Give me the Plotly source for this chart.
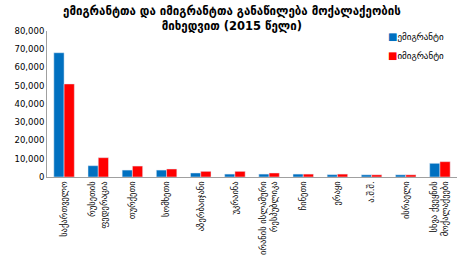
import plotly.graph_objects as go

categories = [
    "საქართველო",
    "რუსეთის<br>ფედერაცია",
    "თურქეთი",
    "სომხეთი",
    "აზერბაიჯანი",
    "უკრაინა",
    "ირანის ისლამური<br>რესპუბლიკა",
    "ჩინეთი",
    "ერაყი",
    "ა.შ.შ.",
    "ისრაელი",
    "სხვა ქვეყნის<br>მოქალაქეები",
]
emigrants = [68100, 6200, 3800, 3800, 2200, 1600, 1600, 1600, 1300, 1200, 1200, 7500]
immigrants = [51000, 10600, 6000, 4400, 3100, 3100, 2200, 1600, 1600, 1200, 1200, 8400]
y_ticks = [0, 10000, 20000, 30000, 40000, 50000, 60000, 70000, 80000]
series_names = ["ემიგრანტი", "იმიგრანტი"]
series_colors = ["#0070C0", "#FF0000"]

FONT = "DejaVu Sans"

fig = go.Figure()
fig.add_bar(x=categories, y=emigrants, name=series_names[0], marker_color=series_colors[0])
fig.add_bar(x=categories, y=immigrants, name=series_names[1], marker_color=series_colors[1])

# legend drawn as compact annotations (Excel style)
for i, (nm, col) in enumerate(zip(series_names, series_colors)):
    fig.add_annotation(
        xref="paper", yref="paper", x=0.827, y=0.96 - i * 0.125,
        xanchor="left", yanchor="middle", showarrow=False,
        text=f"<span style='color:{col};font-size:10px'>■</span>{nm}",
        font=dict(family=FONT, size=9, color="#000000"),
    )

fig.add_annotation(
    xref="paper", yref="paper", x=0.45, y=1.2, xanchor="center", yanchor="top",
    showarrow=False,
    text="<b>ემიგრანტთა და იმიგრანტთა განაწილება მოქალაქეობის<br>მიხედვით (2015 წელი)</b>",
    font=dict(family=FONT, size=11.5, color="#000000"),
)

fig.update_layout(
    width=460, height=270,
    margin=dict(l=47, r=3, t=31, b=93),
    paper_bgcolor="white", plot_bgcolor="white",
    barmode="group", bargap=0.4, bargroupgap=0,
    showlegend=False,
    font=dict(family=FONT, size=9, color="#000000"),
    xaxis=dict(
        tickangle=-90, showline=True, linecolor="#A0A0A0", linewidth=1,
        ticks="", tickfont=dict(family=FONT, size=8.5),
    ),
    yaxis=dict(
        range=[0, 80000], tickvals=y_ticks, tickformat=",",
        showgrid=False, showline=True, linecolor="#A0A0A0", linewidth=1,
        ticks="", zeroline=False, tickfont=dict(family=FONT, size=8.5),
    ),
)

fig.write_html("out.html")
